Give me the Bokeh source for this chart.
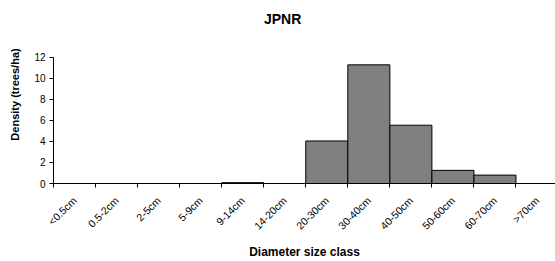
from math import pi
from bokeh.plotting import figure
from bokeh.models import Range1d, FixedTicker, ColumnDataSource, Label
from bokeh.embed import file_html
from bokeh.resources import INLINE

categories = ["<0.5cm", "0.5-2cm", "2-5cm", "5-9cm", "9-14cm", "14-20cm",
              "20-30cm", "30-40cm", "40-50cm", "50-60cm", "60-70cm", ">70cm"]
density = [0, 0, 0, 0, 0.08, 0, 4.05, 11.3, 5.55, 1.25, 0.8, 0]
y_ticks = [0, 2, 4, 6, 8, 10, 12]
title_text = "JPNR"

FONT = "Liberation Sans"

centers = [i + 0.5 for i in range(len(categories))]
src = ColumnDataSource(dict(x=centers, top=density))

# frame extends above the axis top so the title can sit inside it
p = figure(width=555, height=261, output_backend="svg", toolbar_location=None,
           x_range=Range1d(0, 11.94), y_range=Range1d(0, 16.95),
           min_border_left=53, min_border_right=0, min_border_top=5,
           min_border_bottom=78)
p.outline_line_color = None
p.background_fill_color = "white"
p.border_fill_color = "white"
p.xgrid.visible = False
p.ygrid.visible = False

p.vbar(x="x", top="top", width=1.0, bottom=0, source=src,
       fill_color="#808080", line_color="black", line_width=1)

p.add_layout(Label(x=5.45, y=15.67, text=title_text, text_align="center",
                   text_baseline="middle", text_font=FONT, text_font_size="14px",
                   text_font_style="bold", text_color="black"))

# x axis
xa = p.xaxis[0]
xa.ticker = FixedTicker(ticks=centers, minor_ticks=list(range(len(categories) + 1)))
xa.major_label_overrides = {c: lab for c, lab in zip(centers, categories)}
xa.major_tick_out = 0
xa.major_tick_in = 0
xa.minor_tick_out = 4
xa.minor_tick_in = 0
xa.minor_tick_line_color = "black"
xa.axis_line_color = "black"
xa.major_label_orientation = pi / 4
xa.major_label_text_font = FONT
xa.major_label_text_font_size = "10.5px"
xa.major_label_text_color = "black"
xa.major_label_standoff = 11
xa.axis_label = "Diameter size class"
xa.axis_label_text_font = FONT
xa.axis_label_text_font_size = "12px"
xa.axis_label_text_font_style = "bold"
xa.axis_label_text_color = "black"
xa.axis_label_standoff = 6

# y axis
ya = p.yaxis[0]
ya.ticker = FixedTicker(ticks=y_ticks)
ya.bounds = (0, 12)
ya.minor_tick_line_color = None
ya.major_tick_out = 4
ya.major_tick_in = 0
ya.axis_line_color = "black"
ya.major_tick_line_color = "black"
ya.major_label_text_font = FONT
ya.major_label_text_font_size = "10px"
ya.major_label_text_color = "black"
ya.major_label_standoff = 4
ya.axis_label = "Density (trees/ha)"
ya.axis_label_text_font = FONT
ya.axis_label_text_font_size = "11px"
ya.axis_label_text_font_style = "bold"
ya.axis_label_text_color = "black"
ya.axis_label_standoff = 10

open("out.html", "w").write(file_html(p, INLINE))
